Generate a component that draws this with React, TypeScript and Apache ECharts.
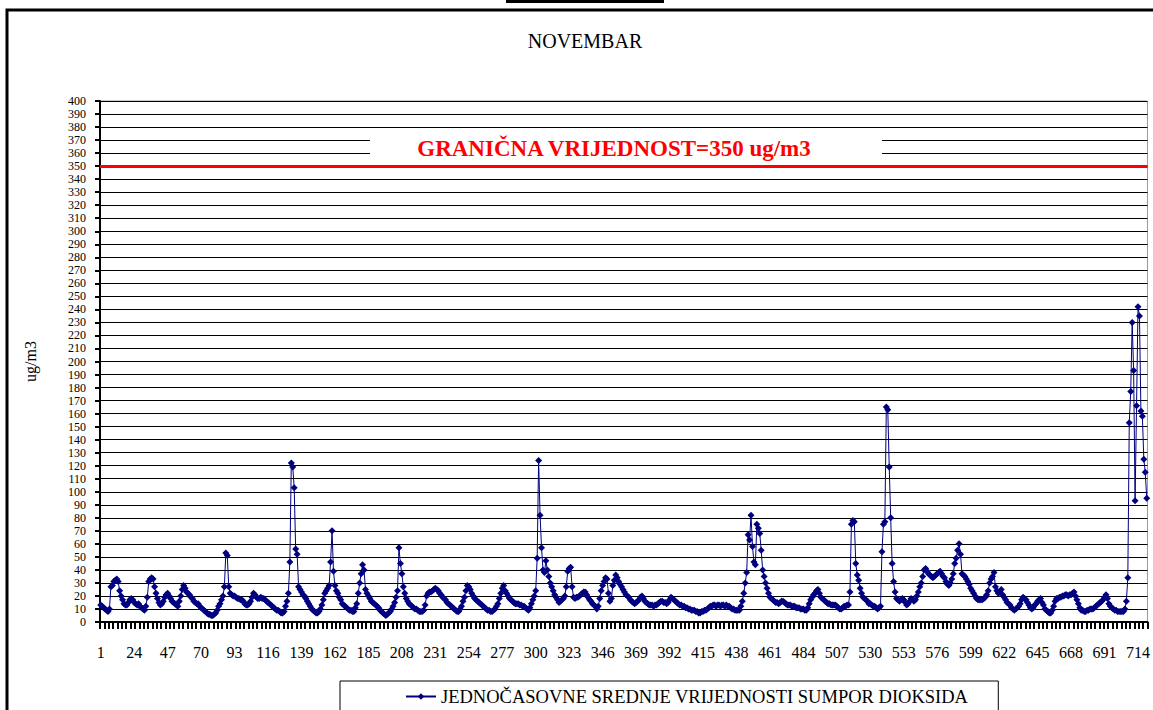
import React, { useEffect, useRef } from "react";
import * as echarts from "echarts";

const SERIF = '"Liberation Serif", "Times New Roman", serif';

// Hourly SO2 averages, November (30 days x 24 h)
const week1 = [
  13, 12, 11, 10, 9, 8, 10, 27, 28, 31, 32, 33, 31, 24, 20, 17, 14, 13, 13, 15, 17, 18, 17, 15,
  14, 13, 14, 12, 11, 10, 9, 12, 19, 31, 33, 34, 33, 27, 22, 18, 15, 13, 14, 16, 19, 21, 22, 20,
  18, 16, 15, 14, 13, 12, 16, 20, 25, 28, 26, 23, 22, 21, 19, 18, 16, 15, 14, 14, 12, 11, 10, 9,
  8, 7, 6, 6, 5, 5, 6, 7, 9, 12, 14, 17, 20, 27, 53, 51, 27, 22, 21, 20, 20, 19, 18, 18,
  17, 17, 16, 14, 13, 13, 14, 16, 19, 22, 21, 19, 18, 18, 19, 18, 18, 17, 16, 15, 14, 13, 12, 11,
  10, 9, 9, 8, 7, 7, 8, 12, 16, 22, 46, 122, 119, 103, 56, 52, 27, 25, 23, 21, 20, 18, 16, 14,
  12, 10, 9, 8, 7, 7, 8, 10, 13, 17, 22, 24, 26, 28, 46, 70, 39, 28, 24, 22, 19, 17, 14, 13,
];
const week2 = [
  12, 11, 10, 9, 9, 8, 8, 11, 14, 22, 30, 37, 44, 40, 25, 22, 20, 18, 16, 15, 14, 13, 12, 11,
  9, 8, 7, 6, 5, 6, 7, 8, 10, 12, 15, 19, 24, 57, 45, 37, 27, 22, 18, 16, 14, 13, 12, 11,
  10, 10, 9, 8, 8, 8, 9, 13, 20, 22, 23, 23, 24, 25, 26, 25, 24, 22, 21, 19, 18, 17, 15, 14,
  13, 12, 11, 10, 9, 8, 8, 10, 12, 16, 19, 24, 28, 27, 25, 22, 20, 18, 17, 16, 15, 14, 13, 12,
  11, 10, 9, 9, 8, 8, 9, 10, 12, 14, 18, 22, 26, 28, 24, 22, 20, 18, 17, 16, 15, 14, 14, 14,
  13, 13, 12, 12, 11, 10, 9, 11, 14, 17, 20, 24, 49, 124, 82, 57, 40, 38, 47, 40, 35, 30, 27, 24,
  21, 19, 17, 15, 16, 17, 18, 20, 27, 39, 41, 42, 27, 19, 18, 19, 19, 20, 21, 22, 23, 23, 21, 19,
];
const week3 = [
  17, 16, 14, 13, 12, 10, 12, 18, 24, 28, 31, 34, 33, 22, 16, 18, 28, 32, 36, 34, 31, 29, 27, 25,
  23, 21, 20, 19, 17, 16, 15, 14, 15, 16, 17, 19, 20, 18, 16, 15, 14, 13, 13, 13, 12, 13, 13, 14,
  15, 16, 16, 15, 15, 14, 15, 17, 19, 18, 17, 16, 15, 14, 13, 13, 12, 12, 11, 11, 10, 10, 9, 9,
  9, 8, 8, 7, 7, 8, 8, 9, 9, 10, 11, 12, 12, 13, 13, 12, 13, 13, 12, 13, 13, 12, 13, 12,
  12, 11, 10, 10, 9, 9, 9, 9, 12, 16, 22, 30, 38, 67, 63, 82, 58, 46, 44, 75, 72, 68, 55, 40,
  35, 30, 26, 22, 19, 18, 17, 16, 15, 15, 14, 15, 16, 16, 15, 14, 13, 13, 13, 12, 12, 12, 11, 11,
  11, 10, 10, 10, 9, 9, 11, 14, 17, 19, 21, 22, 24, 25, 22, 19, 18, 17, 16, 15, 14, 14, 13, 13,
];
const week4 = [
  13, 13, 12, 11, 10, 10, 11, 12, 12, 13, 13, 23, 75, 78, 77, 45, 36, 32, 26, 22, 19, 18, 17, 16,
  14, 14, 13, 12, 12, 11, 10, 11, 12, 54, 75, 77, 165, 163, 119, 80, 45, 31, 23, 18, 17, 16, 17, 18,
  17, 15, 13, 14, 16, 18, 17, 16, 17, 20, 23, 27, 30, 35, 40, 41, 39, 37, 36, 35, 34, 35, 36, 37,
  38, 39, 37, 35, 34, 31, 29, 28, 30, 33, 37, 45, 49, 55, 60, 52, 37, 36, 35, 33, 31, 29, 26, 24,
  22, 20, 18, 17, 17, 17, 17, 18, 19, 21, 24, 30, 33, 35, 38, 27, 24, 22, 23, 25, 21, 19, 17, 15,
  14, 13, 11, 10, 9, 10, 11, 12, 14, 17, 19, 18, 17, 15, 13, 11, 10, 11, 13, 14, 16, 17, 18, 15,
  13, 10, 9, 8, 7, 7, 9, 12, 16, 18, 18, 19, 19, 20, 20, 21, 21, 20, 21, 21, 22, 23, 20, 17,
];
const lastDays = [
  14, 11, 9, 9, 8, 8, 9, 9, 10, 10, 10, 11, 12, 13, 14, 15, 16, 17, 19, 21, 18, 14, 12, 11,
  10, 9, 9, 8, 8, 8, 8, 8, 10, 16, 34, 153, 177, 230, 193, 93, 166, 242, 235, 162, 158, 125, 115, 95,
];

const values = [...week1, ...week2, ...week3, ...week4, ...lastDays];
const hours = values.map((_, i) => String(i + 1));

const TITLE = "NOVEMBAR";
const SERIES_NAME = "JEDNOČASOVNE SREDNJE VRIJEDNOSTI SUMPOR DIOKSIDA";
const Y_NAME = "ug/m3";
const LIMIT = 350;
const LIMIT_LABEL = "GRANIČNA VRIJEDNOST=350 ug/m3";

export default function App() {
  const ref = useRef<HTMLDivElement>(null);

  useEffect(() => {
    if (!ref.current) return;
    const chart = echarts.init(ref.current, null, { renderer: "svg" });
    chart.setOption({
      animation: false,
      backgroundColor: "#ffffff",
      textStyle: { fontFamily: SERIF },
      title: {
        text: TITLE,
        left: 585,
        top: 31,
        textAlign: "center",
        padding: 0,
        textStyle: { fontFamily: SERIF, fontSize: 20, fontWeight: "normal", color: "#000" },
      },
      legend: {
        data: [SERIES_NAME],
        left: 340,
        top: 681,
        padding: [6, 30, 30, 65],
        itemWidth: 30,
        itemHeight: 8,
        borderColor: "#000",
        borderWidth: 1,
        backgroundColor: "#fff",
        textStyle: { fontFamily: SERIF, fontSize: 18.5, color: "#000" },
      },
      grid: {
        left: 100,
        right: 3,
        top: 101,
        bottom: 88,
        show: true,
        borderColor: "#999",
        borderWidth: 1,
      },
      xAxis: {
        type: "category",
        data: hours,
        boundaryGap: true,
        axisLine: { show: true, lineStyle: { color: "#000", width: 2 } },
        axisTick: { show: true, interval: 2, length: 7, lineStyle: { color: "#000", width: 2 } },
        axisLabel: { interval: 22, margin: 22, fontSize: 16, color: "#000", fontFamily: SERIF },
        splitLine: { show: false },
      },
      yAxis: {
        type: "value",
        min: 0,
        max: 400,
        interval: 10,
        name: Y_NAME,
        nameLocation: "middle",
        nameGap: 62,
        nameTextStyle: { fontFamily: SERIF, fontSize: 16, color: "#000" },
        axisLine: { show: true, lineStyle: { color: "#000", width: 2 } },
        axisTick: { show: true, length: 5, lineStyle: { color: "#000", width: 2 } },
        axisLabel: {
          fontSize: 12,
          lineHeight: 12,
          margin: 14,
          color: "#000",
          fontFamily: SERIF,
          showMinLabel: true,
          showMaxLabel: true,
        },
        splitLine: { show: true, lineStyle: { color: "#000", width: 1 } },
      },
      series: [
        {
          type: "line",
          name: SERIES_NAME,
          data: values,
          symbol: "diamond",
          symbolSize: 7,
          showAllSymbol: true,
          lineStyle: { color: "#000080", width: 1 },
          itemStyle: { color: "#000080" },
          markLine: {
            silent: true,
            symbol: "none",
            label: { show: false },
            lineStyle: { color: "#ff0000", width: 3, type: "solid" },
            data: [{ yAxis: LIMIT }],
          },
        },
      ],
      graphic: [
        {
          type: "rect",
          silent: true,
          z: 0,
          shape: { x: 7, y: 10, width: 1400, height: 1000 },
          style: { fill: "none", stroke: "#000", lineWidth: 3 },
        },
        {
          type: "rect",
          silent: true,
          shape: { x: 506, y: 0, width: 158, height: 3 },
          style: { fill: "#000" },
        },
        {
          type: "rect",
          silent: true,
          z: 50,
          shape: { x: 370, y: 133, width: 512, height: 27 },
          style: { fill: "#fff" },
        },
        {
          type: "text",
          silent: true,
          z: 51,
          x: 614,
          y: 148,
          style: {
            text: LIMIT_LABEL,
            fill: "#ff0000",
            fontFamily: SERIF,
            fontSize: 23,
            fontWeight: "bold",
            align: "center",
            verticalAlign: "middle",
          },
        },
      ],
    });
    return () => chart.dispose();
  }, []);

  return (
    <div
      ref={ref}
      style={{ position: "fixed", left: 0, top: 0, width: 1153, height: 710, background: "#fff" }}
    />
  );
}
